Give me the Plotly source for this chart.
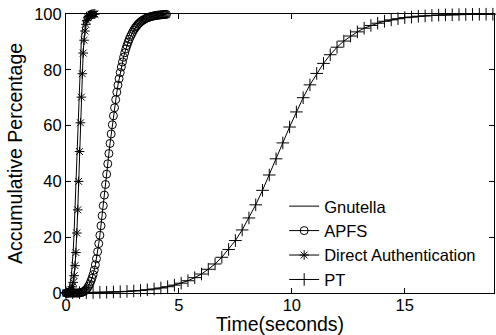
import plotly.graph_objects as go

# ---- data ----
da_time = [0.00, 0.04, 0.08, 0.12, 0.16, 0.20, 0.24, 0.28, 0.32, 0.36, 0.40, 0.44, 0.48,
           0.52, 0.56, 0.60, 0.64, 0.68, 0.72, 0.76, 0.80, 0.84, 0.88, 0.92, 0.96, 1.00,
           1.04, 1.08, 1.12, 1.16, 1.20, 1.24, 1.28]
da_pct = [0, 0, 0, 0.1, 0.3, 0.6, 1.2, 2.2, 3.8, 6.2, 9.8, 14.5, 21.5,
          29.8, 40, 50.7, 61, 70.2, 78.6, 86, 90.6, 93.9, 96.3, 97.7, 98.6, 99.1,
          99.5, 99.7, 99.85, 99.92, 99.96, 99.98, 100]

gnu_time = [0.00, 0.04, 0.08, 0.12, 0.16, 0.20, 0.24, 0.28, 0.32, 0.36, 0.40, 0.44, 0.48,
            0.52, 0.56, 0.60, 0.64, 0.68, 0.72, 0.76, 0.80, 0.84, 0.88, 0.92, 0.96, 1.00,
            1.04, 1.08, 1.12, 1.16, 1.20]
gnu_pct = [0.1, 0.3, 0.7, 1.3, 2.4, 4.0, 6.5, 10.2, 15.0, 22.0, 30.5, 40.8, 51.5,
           61.8, 71.0, 79.2, 86.3, 90.8, 94.0, 96.4, 97.8, 98.7, 99.2, 99.5, 99.7, 99.85,
           99.92, 99.96, 99.98, 100, 100]

apfs_time = [0.00, 0.05, 0.10, 0.15, 0.20, 0.25, 0.30, 0.35, 0.40, 0.45, 0.50, 0.55,
             0.60, 0.65, 0.70, 0.75, 0.80, 0.85, 0.90, 0.95, 1.00, 1.05, 1.10, 1.15,
             1.20, 1.25, 1.30, 1.35, 1.40, 1.45, 1.50, 1.55, 1.60, 1.65, 1.70, 1.75,
             1.80, 1.85, 1.90, 1.95, 2.00, 2.05, 2.10, 2.15, 2.20, 2.25, 2.30, 2.35,
             2.40, 2.45, 2.50, 2.55, 2.60, 2.65, 2.70, 2.75, 2.80, 2.85, 2.90, 2.95,
             3.00, 3.05, 3.10, 3.15, 3.20, 3.25, 3.30, 3.35, 3.40, 3.45, 3.50, 3.55,
             3.60, 3.65, 3.70, 3.75, 3.80, 3.85, 3.90, 3.95, 4.00, 4.05, 4.10, 4.15,
             4.20, 4.25, 4.30, 4.35, 4.40, 4.45]
apfs_pct = [0, 0, 0, 0, 0, 0, 0, 0, 0, 0, 0, 0,
            0.05, 0.1, 0.2, 0.35, 0.6, 0.9, 1.3, 1.8, 2.5, 3.2, 4.2, 5.3,
            6.6, 8.2, 10.1, 12.3, 14.8, 17.7, 20.7, 24.1, 27.7, 31.3, 35.1, 38.9,
            42.6, 46.3, 50.0, 53.6, 57.0, 60.3, 63.5, 66.4, 69.3, 72.0, 74.5, 76.8,
            79.0, 81.0, 82.8, 84.5, 86.1, 87.5, 88.7, 89.9, 90.95, 91.9, 92.7, 93.5,
            94.25, 94.85, 95.4, 95.9, 96.4, 96.8, 97.15, 97.5, 97.75, 98.0, 98.25, 98.45,
            98.6, 98.8, 98.9, 99.05, 99.15, 99.25, 99.34, 99.41, 99.49, 99.55, 99.6, 99.65,
            99.7, 99.74, 99.78, 99.81, 99.84, 99.86]

pt_time = [0.0, 0.3, 0.6, 0.9, 1.2, 1.5, 1.8, 2.1, 2.4, 2.7, 3.0, 3.3, 3.6, 3.9, 4.2,
           4.5, 4.8, 5.1, 5.4, 5.7, 6.0, 6.3, 6.6, 6.9, 7.2, 7.5, 7.8, 8.1, 8.4, 8.7,
           9.0, 9.3, 9.6, 9.9, 10.2, 10.5, 10.8, 11.1, 11.4, 11.7, 12.0, 12.3, 12.6,
           12.9, 13.2, 13.5, 13.8, 14.1, 14.4, 14.7, 15.0, 15.3, 15.6, 15.9, 16.2,
           16.5, 16.8, 17.1, 17.4, 17.7, 18.0, 18.3, 18.6, 18.9]
pt_pct = [0.07, 0.09, 0.12, 0.14, 0.18, 0.23, 0.29, 0.36, 0.46, 0.58, 0.72, 0.91, 1.14,
          1.43, 1.80, 2.25, 2.82, 3.52, 4.40, 5.5, 6.8, 8.5, 10.4, 12.8, 15.6, 18.8,
          22.6, 26.9, 31.6, 36.8, 42.3, 48.1, 53.8, 59.5, 64.9, 70.0, 74.6, 78.7, 82.3,
          85.4, 88.1, 90.3, 92.1, 93.6, 94.9, 95.9, 96.7, 97.4, 97.9, 98.3, 98.7, 98.9,
          99.2, 99.3, 99.5, 99.6, 99.7, 99.73, 99.79, 99.83, 99.86, 99.9, 99.92, 99.93]

x_ticks = [0, 5, 10, 15]
y_ticks = [0, 20, 40, 60, 80, 100]

FONT = "Liberation Sans, Arial, sans-serif"
LINE = dict(color="black", width=1)

fig = go.Figure()
fig.add_trace(go.Scatter(x=gnu_time, y=gnu_pct, name="Gnutella", mode="lines",
                         line=LINE, cliponaxis=False))
fig.add_trace(go.Scatter(x=apfs_time, y=apfs_pct, name="APFS", mode="lines+markers",
                         line=LINE, cliponaxis=False,
                         marker=dict(symbol="circle-open", size=8, color="black",
                                     line=dict(width=1, color="black"))))
fig.add_trace(go.Scatter(x=da_time, y=da_pct, name="Direct Authentication",
                         mode="lines+markers", line=LINE, cliponaxis=False,
                         marker=dict(symbol="asterisk-open", size=8, color="black",
                                     line=dict(width=1, color="black"))))
fig.add_trace(go.Scatter(x=pt_time, y=pt_pct, name="PT", mode="lines+markers",
                         line=LINE, cliponaxis=False,
                         marker=dict(symbol="cross-thin-open", size=9, color="black",
                                     line=dict(width=1, color="black"))))

axis_common = dict(showline=True, linecolor="black", linewidth=1, mirror="ticks",
                   ticks="inside", ticklen=5, tickcolor="black", tickwidth=1,
                   showgrid=False, zeroline=False,
                   tickfont=dict(family=FONT, size=16.5, color="black"))

fig.update_xaxes(range=[0, 18.95], tickvals=x_ticks, ticktext=[str(v) for v in x_ticks],
                 ticklabelstandoff=-3,
                 title=dict(text="Time(seconds)", font=dict(family=FONT, size=19.5, color="black"),
                            standoff=0),
                 **axis_common)
fig.update_yaxes(range=[0, 100], tickvals=y_ticks, ticktext=[str(v) for v in y_ticks],
                 title=dict(text="Accumulative Percentage",
                            font=dict(family=FONT, size=19.5, color="black"), standoff=6),
                 **axis_common)

fig.update_layout(
    width=496, height=335,
    margin=dict(l=66, r=2, t=14, b=42, autoexpand=False),
    paper_bgcolor="white", plot_bgcolor="white",
    showlegend=True,
    legend=dict(x=0.97, y=-0.014, xanchor="right", yanchor="bottom",
                bgcolor="rgba(255,255,255,0)", borderwidth=0,
                font=dict(family=FONT, size=16.5, color="black"),
                itemwidth=30, tracegroupgap=0),
    font=dict(family=FONT, color="black"),
)

fig.write_html("out.html", config={"displayModeBar": False},
               post_script="document.body.style.margin='0';document.body.style.padding='0';")
